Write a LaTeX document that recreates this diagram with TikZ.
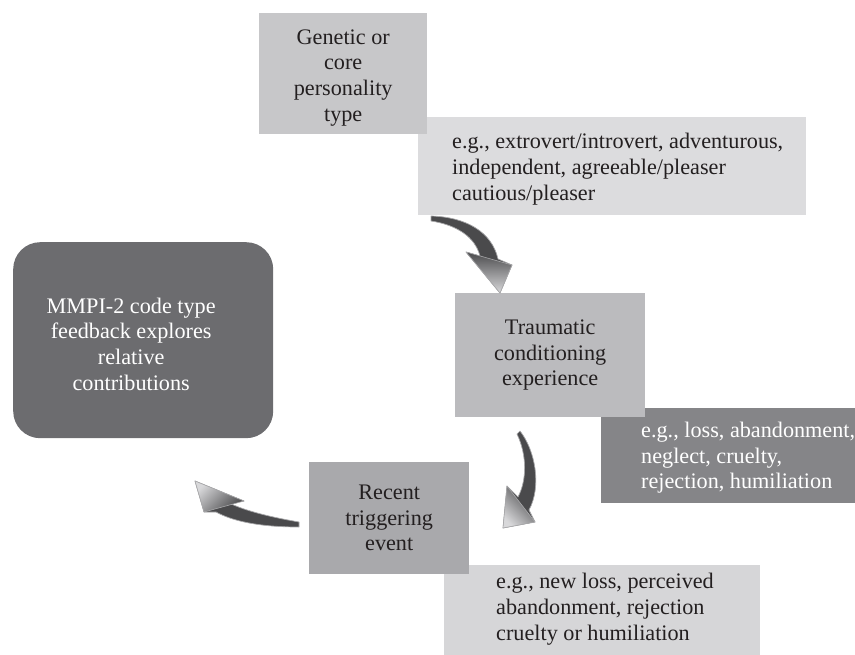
\documentclass[tikz,border=0pt]{standalone}
\usepackage{fontspec}
\setmainfont{Liberation Serif}
\definecolor{cgen}{HTML}{C7C7C9}
\definecolor{cex1}{HTML}{DCDCDE}
\definecolor{ctra}{HTML}{BBBBBE}
\definecolor{cex2}{HTML}{858588}
\definecolor{crec}{HTML}{A9A9AC}
\definecolor{cex3}{HTML}{D6D6D8}
\definecolor{cmmpi}{HTML}{6C6C6F}
\definecolor{ctext}{HTML}{231F20}
\definecolor{arrdark}{HTML}{4A4A4C}
\definecolor{arrlight}{HTML}{D8D8DA}
\definecolor{arredge}{HTML}{A8A8AA}
\tikzset{
  boxbase/.style={rectangle, inner sep=0pt, anchor=north west, draw=none},
  txt/.style={inner sep=0pt, font=\fontsize{22.2}{25.6}\selectfont, text=ctext},
  wtxt/.style={txt, text=white},
  arrbody/.style={fill=arrdark, draw=arredge, line width=0.7pt, line join=round},
  arrhead/.style={draw=arredge, line width=0.6pt, line join=round},
}
\begin{document}
\begin{tikzpicture}[x=1pt,y=-1pt]
\useasboundingbox (0,0) rectangle (855,655);
% boxes (lower layers first)
\node[boxbase, fill=cex1, minimum width=388pt, minimum height=98pt] (ex1) at (418,117) {};
\node[boxbase, fill=cgen, minimum width=168pt, minimum height=121pt] (gen) at (259,13) {};
\node[boxbase, fill=cex2, minimum width=254pt, minimum height=95pt] (ex2) at (601,408) {};
\node[boxbase, fill=ctra, minimum width=190pt, minimum height=124pt] (tra) at (455,293) {};
\node[boxbase, fill=cex3, minimum width=316pt, minimum height=90pt] (ex3) at (444,565) {};
\node[boxbase, fill=crec, minimum width=160pt, minimum height=112pt] (rec) at (309,462) {};
\node[boxbase, fill=cmmpi, rounded corners=27pt, minimum width=260pt, minimum height=196pt] (mmpi) at (13,242) {};
% texts
\node[txt, align=center] (gent) at ([yshift=-4pt]gen.center) {Genetic or\\core\\personality\\type};
\node[txt, align=left, anchor=west] (ex1t) at ([xshift=34pt,yshift=-3pt]ex1.west) {e.g., extrovert/introvert, adventurous,\\independent, agreeable/pleaser\\cautious/pleaser};
\node[txt, align=center] (trat) at (tra.center) {Traumatic\\conditioning\\experience};
\node[wtxt, align=left, anchor=west] (ex2t) at ([xshift=40pt,yshift=-2pt]ex2.west) {e.g., loss, abandonment,\\neglect, cruelty,\\rejection, humiliation};
\node[txt, align=center] (rect) at (rec.center) {Recent\\triggering\\event};
\node[txt, align=left, anchor=west] (ex3t) at ([xshift=52pt,yshift=1pt]ex3.west) {e.g., new loss, perceived\\abandonment, rejection\\cruelty or humiliation};
\node[wtxt, align=center] (mmpit) at ([xshift=-12pt,yshift=-4pt]mmpi.center) {MMPI-2 code type\\feedback explores\\relative\\contributions};
% arrow 1
\path[arrbody] (431,216) .. controls (466,217) and (492,232) .. (498,259) -- (512,265) -- (500,293) -- (466,252) -- (480,256) .. controls (475,237) and (457,225) .. (431,221) -- cycle;
\shade[top color=arrdark, bottom color=arrlight] (466,252) -- (512,265) -- (500,293) -- cycle;
\draw[arrhead] (466,252) -- (512,265) -- (500,293) -- cycle;
% arrow 2
\path[arrbody] (520,431) .. controls (535,450) and (542,486) .. (529,510) -- (535,522) -- (503,528) -- (507,486) -- (518,497) .. controls (527,480) and (527,455) .. (517,434) -- cycle;
\shade[top color=arrdark, bottom color=arrlight, shading angle=-45] (507,486) -- (535,522) -- (503,528) -- cycle;
\draw[arrhead] (507,486) -- (535,522) -- (503,528) -- cycle;
% arrow 3
\path[arrbody] (299,522) .. controls (270,517) and (246,511) .. (229,503) -- (244,501) -- (195,481) -- (204,512) -- (216,512) .. controls (236,523) and (266,527) .. (299,527) -- cycle;
\shade[top color=arrdark, bottom color=arrlight, shading angle=-135] (244,501) -- (195,481) -- (204,512) -- cycle;
\draw[arrhead] (244,501) -- (195,481) -- (204,512) -- cycle;
\end{tikzpicture}
\end{document}
